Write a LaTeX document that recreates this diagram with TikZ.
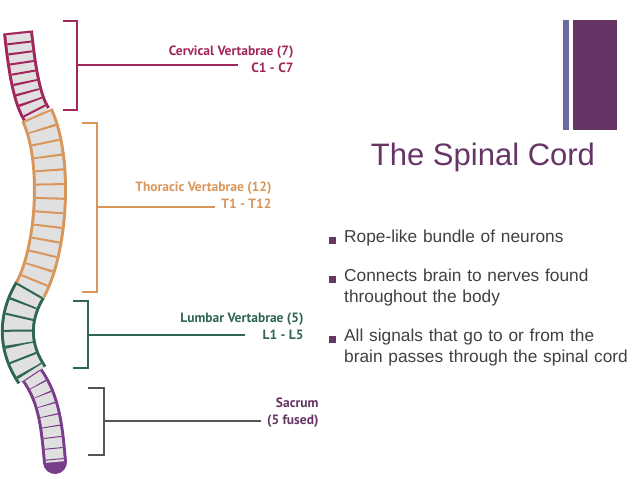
\documentclass[tikz,border=0pt]{standalone}
\usepackage{fontspec}
\setmainfont{Liberation Sans}
\newfontfamily\lab{PT Sans}
\begin{document}
\begin{tikzpicture}[x=1pt,y=-1pt,
  brk/.style={line width=1.1pt},
  lbl/.style={font=\lab\bfseries\fontsize{13.5}{17}\selectfont,align=right,anchor=east},
  bul/.style={font=\fontsize{17.3}{20.5}\selectfont,text=black!75,align=left,anchor=north west,inner sep=0pt,text width=295pt},
  sq/.style={fill=purp,minimum size=7pt,inner sep=0pt}]
\definecolor{purp}{HTML}{673466}
\definecolor{slate}{HTML}{6B6A9E}
\definecolor{cerv}{HTML}{A3265A}
\definecolor{thor}{HTML}{D9965A}
\definecolor{lumb}{HTML}{2E6650}
\definecolor{sacr}{HTML}{7A3D8C}
\definecolor{grayl}{HTML}{555555}
\useasboundingbox (0,0) rectangle (638,479);
% right decoration bars
\fill[slate] (563,20) rectangle (569,130);
\fill[purp] (573,20) rectangle (617,130);
% spine
\def\cv{(18,32) .. controls (22,70) and (27,100) .. (37,115)}
\def\th{(37,115) .. controls (58,160) and (52,250) .. (30,290)}
\def\lu{(30,290) .. controls (12,320) and (15,350) .. (32,375)}
\def\sa{(32,375) .. controls (50,400) and (52,430) .. (55,462)}
\draw[cerv,line width=30pt] \cv;
\draw[thor,line width=34pt] \th;
\draw[lumb,line width=34pt] \lu;
\draw[sacr,line width=24pt,line cap=round] \sa;
\draw[black!12,line width=24pt] \cv;
\draw[black!12,line width=28pt] \th;
\draw[black!12,line width=28pt] \lu;
\draw[black!12,line width=18pt] \sa;
\draw[cerv,line width=24pt,dash pattern=on 2pt off 8pt] \cv;
\draw[thor,line width=28pt,dash pattern=on 2pt off 12pt] \th;
\draw[lumb,line width=28pt,dash pattern=on 2pt off 12pt] \lu;
\draw[sacr,line width=18pt,dash pattern=on 1pt off 10pt] \sa;
% brackets
\coordinate (c1) at (63,21); \coordinate (c2) at (63,110);
\draw[brk,cerv] (c1) -| (77,110) -- (c2);
\coordinate (ce) at (238,65);
\draw[brk,cerv] (77,65) -- (ce);
\node[lbl,text=cerv] (cl) at (297,59) {Cervical Vertabrae (7)\\C1 - C7};
\coordinate (t1) at (82,123); \coordinate (t2) at (82,292);
\draw[brk,thor] (t1) -| (97,292) -- (t2);
\coordinate (te) at (215,207);
\draw[brk,thor] (97,207) -- (te);
\node[lbl,text=thor] (tl) at (275,195) {Thoracic Vertabrae (12)\\T1 - T12};
\coordinate (l1) at (73,301); \coordinate (l2) at (73,368);
\draw[brk,lumb] (l1) -| (88,368) -- (l2);
\coordinate (le) at (245,335);
\draw[brk,lumb] (88,335) -- (le);
\node[lbl,text=lumb] (ll) at (307,326) {Lumbar Vertabrae (5)\\L1 - L5};
\coordinate (s1) at (88,388); \coordinate (s2) at (88,455);
\draw[brk,grayl] (s1) -| (104,455) -- (s2);
\coordinate (se) at (261,421);
\draw[brk,grayl] (104,421) -- (se);
\node[lbl,text=purp] (sl) at (322,413) {Sacrum\\(5 fused)};
% title
\node[text=purp,font=\fontsize{31}{36}\selectfont] (title) at (483,157) {The Spinal Cord};
% bullets
\node[sq] (b1) at (332,240) {};
\node[bul] (t1x) at (344,230) {Rope-like bundle of neurons};
\node[sq] (b2) at (332,279) {};
\node[bul] (t2x) at (344,269) {Connects brain to nerves found\\throughout the body};
\node[sq] (b3) at (332,339) {};
\node[bul] (t3x) at (344,329) {All signals that go to or from the\\brain passes through the spinal cord};
\end{tikzpicture}
\end{document}
